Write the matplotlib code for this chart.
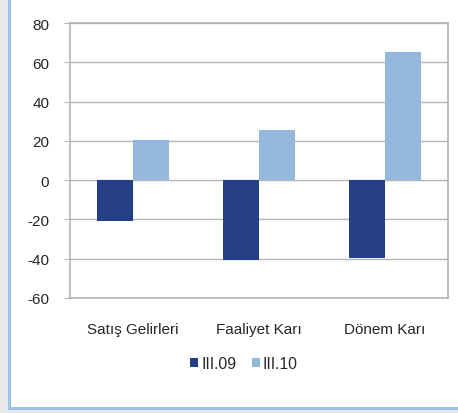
import matplotlib
matplotlib.use("Agg")
import matplotlib.pyplot as plt
from matplotlib.patches import Rectangle, Patch
import numpy as np

plt.rcParams['font.family'] = ['Liberation Sans', 'DejaVu Sans']

categories = ["Satış Gelirleri", "Faaliyet Karı", "Dönem Karı"]
series_names = ["III.09", "III.10"]
values_0910 = [-21.0, -40.4, -39.4]
values_1010 = [20.6, 25.4, 65.0]
yticks = [-60, -40, -20, 0, 20, 40, 60, 80]

dark = "#243f86"
light = "#95b8dd"
grid_c = "#b4b4b4"
text_c = "#262626"

W, H = 458, 414
fig = plt.figure(figsize=(W / 100, H / 100), dpi=100)
fig.patch.set_facecolor("white")

# outer page background and panel frame
fig.add_artist(Rectangle((0, 0), 8 / W, 1, transform=fig.transFigure,
                         facecolor="#e9e9eb", edgecolor="none", zorder=0))
fig.add_artist(Rectangle((0, 0), 1, 3 / H, transform=fig.transFigure,
                         facecolor="#e9e9eb", edgecolor="none", zorder=0))
fig.add_artist(Rectangle((8 / W, 3 / H), 3 / W, 1 - 3 / H, transform=fig.transFigure,
                         facecolor="#9cc2e8", edgecolor="none", zorder=1))
fig.add_artist(Rectangle((8 / W, 3 / H), 1 - 8 / W, 3 / H, transform=fig.transFigure,
                         facecolor="#9cc2e8", edgecolor="none", zorder=1))

ax = fig.add_axes([70 / W, 1 - 299 / H, (448 - 70) / W, (299 - 24) / H])
x = np.arange(len(categories))
bw = 0.286
ax.bar(x - bw / 2, values_0910, width=bw, color=dark, zorder=3, label=series_names[0])
ax.bar(x + bw / 2, values_1010, width=bw, color=light, zorder=3, label=series_names[1])

ax.set_xlim(-0.5, len(categories) - 0.5)
ax.set_ylim(-60, 80)
ax.set_yticks(yticks)
ax.set_yticklabels([str(v) for v in yticks])
ax.set_xticks(x)
ax.set_xticklabels(categories)
ax.yaxis.grid(True, color=grid_c, linewidth=1.0, zorder=0)
ax.set_axisbelow(True)
for side in ["left", "right", "top", "bottom"]:
    ax.spines[side].set_color(grid_c)
    ax.spines[side].set_linewidth(1.2)
ax.tick_params(axis="y", length=4, color=grid_c, pad=11, labelsize=11, labelcolor=text_c)
ax.tick_params(axis="x", length=0, pad=17, labelsize=11, labelcolor=text_c)

handles = [Patch(facecolor=dark, label=series_names[0]),
           Patch(facecolor=light, label=series_names[1])]
fig.legend(handles=handles, loc="center", bbox_to_anchor=(244 / W, 1 - 365 / H),
           ncol=2, frameon=False, fontsize=11.3, handlelength=0.5, handleheight=0.5,
           handletextpad=0.2, columnspacing=1.0, labelcolor=text_c)

fig.savefig("out.png", dpi=100)
